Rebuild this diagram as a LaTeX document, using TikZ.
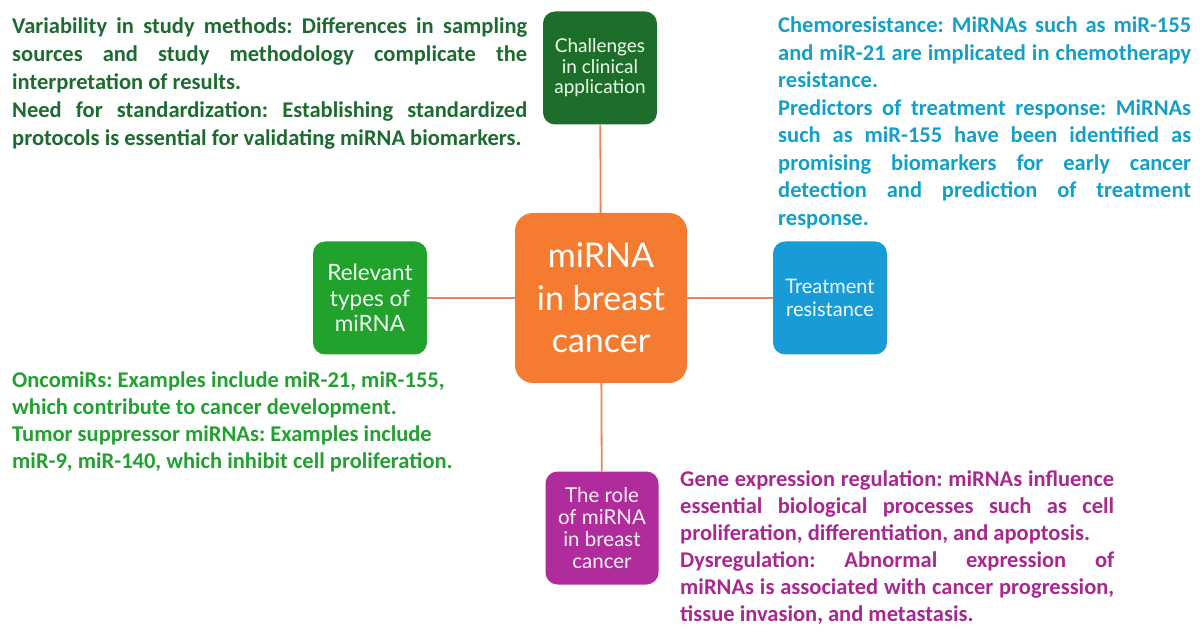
\documentclass[tikz,border=0pt]{standalone}
\usepackage{fontspec}
\setmainfont{Carlito}
\newfontfamily\boxfont{Lato}
\frenchspacing
\definecolor{cdkgreen}{HTML}{1E6E2B}
\definecolor{corange}{HTML}{F47B2F}
\definecolor{cgreen}{HTML}{20A22C}
\definecolor{cblue}{HTML}{189BD6}
\definecolor{cmagenta}{HTML}{B02B9C}
\definecolor{cline}{HTML}{E08A55}
\definecolor{tdkgreen}{HTML}{1C6B30}
\definecolor{tcyan}{HTML}{12A0C8}
\definecolor{tgreen}{HTML}{22A030}
\definecolor{tmagenta}{HTML}{A8288F}
\newcommand{\jl}[2]{\makebox[#1][s]{#2}}
\tikzset{
  topic/.style={rounded corners=12pt, minimum width=114pt, minimum height=113pt,
    align=center, font=\boxfont, inner sep=0pt},
  link/.style={draw=cline, line width=1.8pt},
  para/.style={anchor=north west, align=left, inner sep=0pt,
    font=\bfseries\frenchspacing\fontsize{22.5}{27}\selectfont}
}
\begin{document}
\begin{tikzpicture}[x=1pt,y=-1pt]
\useasboundingbox (0,0) rectangle (1200,636);
% boxes
\node[topic, fill=corange, rounded corners=18pt, minimum width=172pt, minimum height=170pt,
  text=white, font=\boxfont\fontsize{34}{42.5}\selectfont] (c) at (601,298) {miRNA\\in breast\\cancer};
\node[topic, fill=cdkgreen, text=green!8!white, font=\boxfont\fontsize{19}{20.5}\selectfont] (ch) at (600,68) {Challenges\\in clinical\\application};
\node[topic, fill=cgreen, text=green!5!white, font=\boxfont\fontsize{22.5}{25.5}\selectfont] (rel) at (370,298) {Relevant\\types of\\miRNA};
\node[topic, fill=cblue, text=cyan!5!white, font=\boxfont\fontsize{20}{22.5}\selectfont] (tr) at (830,298) {Treatment\\resistance};
\node[topic, fill=cmagenta, minimum width=113pt, text=magenta!5!white, font=\boxfont\fontsize{20.5}{21.8}\selectfont] (ro) at (602,528) {The role\\of miRNA\\in breast\\cancer};
% connectors
\draw[link] (ch) -- (c);
\draw[link] (c) -- (ro);
\draw[link] (rel) -- (c);
\draw[link] (c) -- (tr);
% paragraphs
\node[para, text=tdkgreen, font=\bfseries\frenchspacing\fontsize{22.5}{28}\selectfont] (p1) at (12,17) {%
\jl{515pt}{Variability in study methods: Differences in sampling}\\
\jl{515pt}{sources and study methodology complicate the}\\
interpretation of results.\\
\jl{515pt}{Need for standardization: Establishing standardized}\\
protocols is essential for validating miRNA biomarkers.};
\node[para, text=tcyan, font=\bfseries\frenchspacing\fontsize{22.5}{27.5}\selectfont] (p2) at (778,17) {%
\jl{413pt}{Chemoresistance: MiRNAs such as miR-155}\\
\jl{413pt}{and miR-21 are implicated in chemotherapy}\\
resistance.\\
\jl{413pt}{Predictors of treatment response: MiRNAs}\\
\jl{413pt}{such as miR-155 have been identified as}\\
\jl{413pt}{promising biomarkers for early cancer}\\
\jl{413pt}{detection and prediction of treatment}\\
response.};
\node[para, text=tgreen] (p3) at (12,372) {%
OncomiRs: Examples include miR-21, miR-155,\\
which contribute to cancer development.\\
Tumor suppressor miRNAs: Examples include\\
miR-9, miR-140, which inhibit cell proliferation.};
\node[para, text=tmagenta] (p4) at (680,470) {%
\jl{434pt}{Gene expression regulation: miRNAs influence}\\
\jl{434pt}{essential biological processes such as cell}\\
proliferation, differentiation, and apoptosis.\\
\jl{434pt}{Dysregulation: Abnormal expression of}\\
\jl{434pt}{miRNAs is associated with cancer progression,}\\
tissue invasion, and metastasis.};
\end{tikzpicture}
\end{document}
